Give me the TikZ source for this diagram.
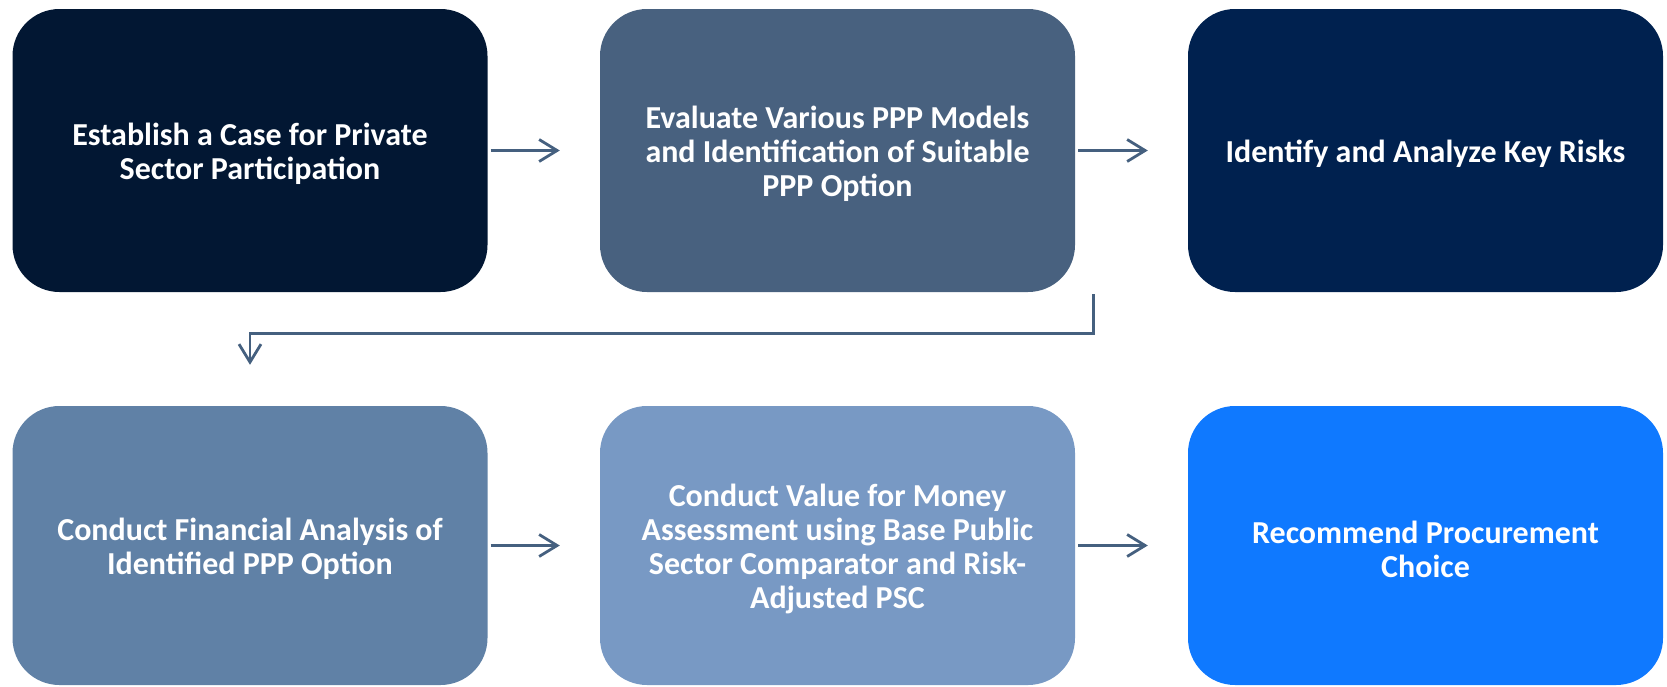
\documentclass[tikz,border=0pt]{standalone}
\usepackage{fontspec}
\setmainfont{Carlito}
\usetikzlibrary{arrows.meta,calc}
\definecolor{cA}{HTML}{021733}
\definecolor{cB}{HTML}{48617F}
\definecolor{cC}{HTML}{00214F}
\definecolor{cD}{HTML}{6081A6}
\definecolor{cE}{HTML}{7899C4}
\definecolor{cF}{HTML}{0F79FF}
\definecolor{arrc}{HTML}{45607F}
\tikzset{
  stepbox/.style={rectangle, rounded corners=47pt, minimum width=475pt, inner sep=0pt},
  steptext/.style={text=white, align=center, inner sep=0pt, yshift=-3.5pt,
    font=\fontsize{32}{34}\selectfont\bfseries},
  toprow/.style={stepbox, minimum height=283pt},
  botrow/.style={stepbox, minimum height=279pt},
  flow/.style={draw=arrc, line width=2.8pt, -{Straight Barb[length=18pt,width=22pt,line width=2.8pt]}}
}
\begin{document}
\begin{tikzpicture}[x=1pt,y=-1pt]
\useasboundingbox (0,0) rectangle (1667,686);
\node[toprow, fill=cA] (b1) at (250,150.5) {};
\node[toprow, fill=cB] (b2) at (837.5,150.5) {};
\node[toprow, fill=cC] (b3) at (1425.5,150.5) {};
\node[botrow, fill=cD] (b4) at (250,545.5) {};
\node[botrow, fill=cE] (b5) at (837.5,545.5) {};
\node[botrow, fill=cF] (b6) at (1425.5,545.5) {};
\node[steptext] (t1) at (b1.center) {Establish a Case for Private\\Sector Participation};
\node[steptext] (t2) at (b2.center) {Evaluate Various PPP Models\\and Identification of Suitable\\PPP Option};
\node[steptext] (t3) at (b3.center) {Identify and Analyze Key Risks};
\node[steptext] (t4) at (b4.center) {Conduct Financial Analysis of\\Identified PPP Option};
\node[steptext] (t5) at (b5.center) {Conduct Value for Money\\Assessment using Base Public\\Sector Comparator and Risk-\\Adjusted PSC};
\node[steptext] (t6) at (b6.center) {Recommend Procurement\\Choice};
\draw[flow] ([xshift=3pt]b1.east) -- ([xshift=-40pt]b2.west);
\draw[flow] ([xshift=3pt]b2.east) -- ([xshift=-40pt]b3.west);
\draw[flow] ([xshift=3pt]b4.east) -- ([xshift=-40pt]b5.west);
\draw[flow] ([xshift=3pt]b5.east) -- ([xshift=-40pt]b6.west);
\coordinate (e1) at ($(b2.south east)+(18,2)$);
\draw[flow] (e1) -- ++(0,39) -| ([yshift=41pt]b4.north);
\end{tikzpicture}
\end{document}
